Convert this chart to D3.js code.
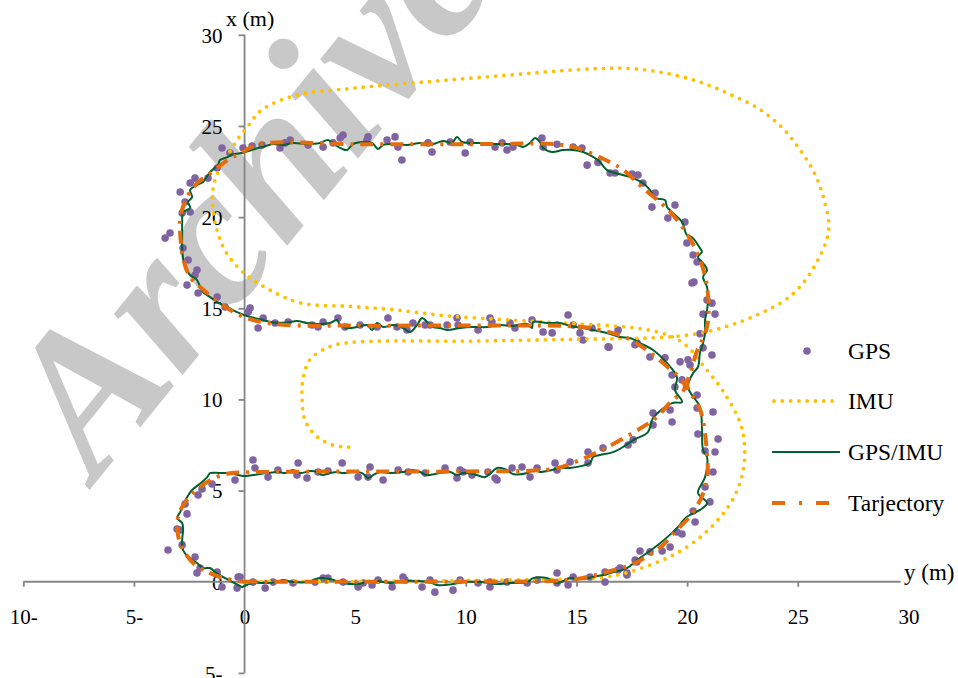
<!DOCTYPE html>
<html>
<head>
<meta charset="utf-8">
<script src="https://cdn.jsdelivr.net/npm/d3@7"></script>
<style>
  body { margin: 0; background: #fff; }
  svg text { font-family: "Liberation Serif", "Times New Roman", serif; }
</style>
</head>
<body>
<div id="chart"></div>
<script>
// horizontal value = y (m), vertical value = x (m)
const xTicks = [-10, -5, 0, 5, 10, 15, 20, 25, 30];
const xTickLabels = ["10-", "5-", "0", "5", "10", "15", "20", "25", "30"];
const yTicks = [-5, 0, 5, 10, 15, 20, 25, 30];
const yTickLabels = ["5-", "0", "5", "10", "15", "20", "25", "30"];
const seriesNames = ["GPS", "IMU", "GPS/IMU", "Tarjectory"];

// GPS fixes [y, x]
const gpsPoints = [
  [-0.07,23.79],[0.34,23.9],[0.79,23.95],[1.6,23.79],[1.83,24.07],[2.06,24.23],[2.87,23.95],[3.55,23.84],
  [4.0,24.07],[4.32,24.34],[4.45,24.5],[5.58,24.4],[5.53,24.23],[6.44,24.23],[6.8,24.4],[6.93,23.84],
  [7.11,23.13],[8.29,24.07],[8.47,23.57],[9.29,24.12],[9.97,23.52],[10.19,24.12],[11.32,23.84],[11.64,24.07],
  [11.86,23.68],[12.13,23.84],[13.44,24.34],[13.49,23.84],[14.12,24.0],[14.85,23.84],[15.25,23.79],[15.48,22.85],
  [15.97,23.0],[16.52,22.42],[16.74,22.42],[17.51,22.36],[17.78,22.31],[18.0,21.87],[18.55,21.32],[18.41,20.55],
  [19.45,20.66],[19.13,19.95],[19.9,19.73],[19.99,18.58],[20.27,17.92],[20.45,17.54],[20.22,16.39],[20.31,16.44],
  [20.9,15.45],[21.12,15.28],[20.72,14.68],[21.26,14.68],[16.88,13.8],[16.47,12.86],[17.74,13.1],[18.32,12.33],
  [19.0,12.28],[19.68,12.06],[20.58,13.6],[20.72,12.83],[21.12,12.44],[20.13,11.89],[19.32,11.34],[20.04,12.17],
  [19.77,11.07],[19.45,10.68],[20.45,10.24],[20.45,9.53],[21.17,9.31],[18.46,9.25],[19.32,8.76],[18.46,8.6],
  [19.23,9.42],[20.49,8.1],[21.4,7.83],[20.81,7.17],[21.26,7.12],[21.17,6.02],[20.81,5.2],[21.03,4.38],
  [20.27,3.88],[20.36,3.28],[19.54,2.73],[19.77,2.62],[19.23,1.9],[17.87,1.69],[18.32,1.64],[18.87,1.69],
  [17.65,1.19],[16.29,0.53],[17.28,0.48],[16.29,-0.02],[16.97,0.75],[16.2,7.33],[17.33,7.5],[17.56,7.78],
  [0.16,14.79],[0.25,15.01],[0.61,13.92],[0.84,14.47],[1.38,14.19],[1.97,14.25],[3.05,14.08],[3.32,13.97],
  [3.55,14.25],[4.22,14.47],[4.54,13.97],[5.22,14.08],[5.99,13.97],[6.48,14.47],[6.89,13.97],[7.34,13.81],
  [7.61,14.19],[8.16,14.08],[8.38,14.08],[9.15,14.08],[9.6,14.47],[9.65,14.08],[10.55,13.81],[11.09,14.47],
  [11.18,14.25],[12.0,14.19],[12.22,13.92],[12.99,14.36],[13.49,13.7],[13.9,13.65],[14.62,14.63],[14.85,14.08],
  [15.16,13.65],[15.3,13.26],[15.7,13.92],[16.43,12.88],[17.64,13.0],
  [-1.02,23.79],[-0.66,23.51],[-1.24,22.69],[-1.65,22.14],[-2.24,22.14],[-2.46,21.87],[-2.91,21.38],[-2.69,20.83],
  [-2.46,20.28],[-2.82,20.22],[-3.37,19.13],[-3.59,18.85],[-2.78,18.31],[-2.55,17.65],[-2.15,17.1],[-2.24,16.82],
  [-2.6,16.27],[-2.1,15.84],[-1.24,15.62],[-0.88,15.07],
  [0.38,6.68],[0.47,6.24],[1.06,5.74],[1.51,6.13],[2.37,5.85],[2.42,6.51],[2.82,5.69],[3.32,6.02],
  [3.77,6.07],[4.41,6.51],[5.13,5.74],[5.58,5.74],[5.67,6.29],[6.26,5.58],[6.94,6.13],[7.39,6.02],
  [8.16,5.96],[9.06,6.24],[9.6,5.69],[9.74,6.13],[9.88,6.02],[10.28,5.85],[11.0,6.02],[11.32,5.69],
  [11.41,5.58],[12.09,6.24],[12.54,6.29],[12.9,5.74],[13.22,6.24],[14.03,6.51],[14.12,6.13],[14.71,6.57],
  [15.52,7.11],[15.52,6.51],
  [-0.43,5.58],[-1.47,5.36],[-1.92,5.09],[-2.1,4.76],[-2.69,4.26],[-2.6,3.72],[-3.05,2.89],[-2.91,2.84],
  [-3.46,1.74],[-2.82,2.02],[-2.24,1.36],[-2.01,0.75],[-2.15,0.48],[-1.24,0.53],[-1.02,-0.29],[-0.29,0.26],
  [-0.34,-0.35],[0.93,-0.35],
  [-0.2,0.26],[0.38,-0.02],[1.29,-0.02],[2.19,-0.07],[3.19,-0.02],[3.55,0.2],[3.77,0.2],[4.45,-0.02],
  [5.13,-0.29],[5.36,-0.07],[5.76,-0.18],[6.03,0.09],[6.67,-0.29],[7.16,0.26],[7.25,0.09],[8.02,-0.29],
  [8.38,0.09],[8.6,-0.57],[9.42,-0.46],[9.74,0.09],[10.55,-0.07],[11.09,-0.29],[11.09,-0.02],[11.86,-0.02],
  [12.77,-0.07],[13.22,0.09],[14.12,0.48],[14.12,-0.07],[14.62,-0.18],[14.85,0.26],[15.61,0.26],[16.88,0.64],
  [17.28,0.37],[17.73,1.08]
];

// IMU only (drifting) [y, x]
const imuPath = [
  [0,0],[3,0],[6,0.02],[9,0.05],[12,0.1],[14.5,0.15],[16.2,0.25],[17.3,0.5],[18.5,1.0],[19.5,1.55],
  [20.6,2.45],[21.5,3.55],[22.1,4.6],[22.5,5.9],[22.6,7.4],[22.4,8.7],[21.6,10.5],[20.7,11.9],[20.1,12.8],
  [19.4,13.4],[18.3,13.8],[17,14.0],[15,14.15],[12,14.36],[9,14.6],[6.5,14.95],[4.8,15.1],[2.5,15.3],
  [1.15,16.0],[0.1,16.8],[-0.8,18.0],[-1.25,19.3],[-1.45,20.8],[-1.35,22.0],[-0.8,23.3],[-0.35,24.2],
  [0.1,24.9],[0.7,25.8],[1.6,26.4],[2.8,26.8],[4.3,27.0],[6,27.2],[8,27.4],[10,27.6],[12,27.8],[14,28.0],
  [16,28.15],[17.5,28.15],[19,27.9],[20.6,27.4],[22,26.7],[23.3,25.9],[24.3,24.9],[25.1,23.7],[25.8,22.3],
  [26.2,20.9],[26.4,19.3],[25.8,17.4],[24.7,15.7],[22.9,14.5],[21.5,13.9],[20.4,13.6],[18.8,13.4],
  [15,13.3],[10,13.2],[6,13.2],[4.6,13.1],[3.86,12.9],[2.96,12.2],[2.64,11.1],[2.6,9.97],[2.73,8.87],
  [3.19,8.05],[3.86,7.55],[4.54,7.39],[5.0,7.39]
];

// GPS/IMU fusion [y, x]
const fusedPath = [
  [-0.11,-0.29],[0.38,-0.07],[1.02,-0.07],[1.47,-0.02],[1.74,0.09],[2.19,-0.02],[2.82,-0.02],[3.41,0.2],
  [3.86,0.15],[4.45,-0.07],[5.08,-0.13],[5.54,-0.02],[5.99,0.04],[6.58,-0.07],[7.16,0.04],[7.79,0.04],
  [8.38,-0.02],[8.7,-0.18],[9.42,-0.13],[9.88,-0.02],[10.64,-0.02],[11.41,-0.13],[11.99,-0.07],[12.77,-0.02],
  [13.04,0.2],[13.67,0.2],[14.12,-0.07],[14.71,0.2],[15.3,0.15],[15.75,0.26],[16.2,0.37],
  [16.52,0.48],[17.28,0.75],[17.74,1.19],[18.68,2.02],[19.32,2.68],[19.59,3.01],[19.99,3.56],[20.58,3.94],
  [20.9,4.32],[20.49,4.87],[20.81,5.74],[20.9,6.85],[20.72,7.23],[20.67,8.49],[20.58,9.58],[20.04,10.68],
  [20.27,11.45],[20.49,11.78],[20.58,12.55],[20.72,13.1],[20.81,13.64],[20.81,14.35],[20.9,14.9],[20.94,15.45],
  [20.9,16.16],[20.72,16.71],[20.9,17.1],[20.72,17.48],[20.49,17.81],[20.67,18.09],[20.58,18.3],[20.22,18.9],
  [19.99,19.01],[19.77,19.73],[19.36,20.22],[19.09,20.55],[19.0,20.94],[18.55,21.05],[18.32,21.49],[18.0,21.87],
  [17.56,22.14],[17.1,22.31],[16.38,22.58],[16.06,23.02],
  [15.75,23.3],[15.3,23.57],[14.85,23.68],[14.39,23.68],[13.9,23.57],[13.49,23.79],[13.35,24.12],[13.13,24.34],
  [12.9,24.07],[12.58,23.85],[12.31,23.96],[11.86,24.01],[11.23,24.01],[10.64,24.07],[10.19,24.07],[9.83,24.12],
  [9.6,24.4],[9.38,24.07],[8.97,24.18],[8.52,24.01],[7.93,24.07],[7.34,23.96],[6.71,24.01],[6.26,23.96],
  [6.03,23.74],[5.76,24.07],[5.35,24.12],[4.9,24.01],[4.63,23.68],[4.41,23.74],[4.09,23.96],[3.77,24.23],
  [3.41,24.07],[2.82,24.01],[2.19,24.07],[1.74,23.96],[1.29,24.01],[0.84,23.85],[0.61,23.79],[0.25,23.65],
  [-0.2,23.5],[-0.52,23.45],[-0.75,23.3],[-1.11,23.13],[-1.2,22.86],[-1.56,22.47],[-1.88,21.93],[-2.15,21.76],
  [-2.46,21.49],[-2.37,21.1],[-2.55,20.83],[-2.46,20.5],[-2.78,20.28],[-2.82,19.84],[-2.82,19.13],[-2.82,18.36],
  [-2.78,17.76],[-2.69,17.26],[-2.46,16.82],[-2.15,16.55],[-2.01,16.17],[-1.88,15.89],[-1.56,15.62],[-1.24,15.34],
  [-0.79,15.07],[-0.34,14.79],[0.25,14.52],[0.7,14.4],[1.29,14.22],[1.92,14.22],[2.37,14.3],[2.82,14.19],
  [3.41,14.14],[3.86,14.19],[4.18,14.36],[4.32,14.08],[4.63,13.92],[5.08,13.97],[5.54,14.08],[5.76,13.81],
  [5.99,14.19],[6.26,13.97],[6.71,14.08],[7.16,13.92],[7.48,13.7],[7.79,14.08],[8.02,14.47],[8.25,14.25],
  [8.52,13.97],[8.83,13.92],[9.15,13.81],[9.74,13.92],[10.33,13.97],[10.96,13.97],[11.55,14.08],[12.13,14.03],
  [12.77,14.14],[12.99,13.92],[13.04,14.25],[13.67,14.19],[14.26,14.19],[14.71,14.03],[15.3,13.92],[15.75,13.81],
  [16.38,13.64],[16.97,13.42],[17.42,13.37],[17.87,13.09],[18.46,12.71],[19.09,11.99],[19.54,11.22],[19.45,10.52],
  [19.77,9.86],[19.32,9.8],[18.46,8.98],[18.23,8.21],[17.56,7.77],[17.1,7.39],[16.65,7.11],[16.06,6.95],
  [15.75,6.84],[15.61,6.51],[14.71,6.24],[14.26,6.24],[13.9,6.13],[13.35,6.02],[13.04,6.13],[12.77,5.96],
  [12.13,5.91],[11.86,6.13],[11.41,6.24],[11.09,5.91],[10.87,5.74],[10.33,5.91],[9.88,5.96],[9.6,5.85],
  [9.29,6.02],[8.83,5.96],[8.25,5.85],[7.93,6.02],[7.61,6.13],[7.16,6.02],[6.58,5.96],[6.12,6.02],
  [5.81,5.85],[5.58,5.69],[5.31,5.96],[4.9,6.02],[4.45,5.96],[4.18,6.02],[3.86,5.96],[3.5,5.85],
  [3.28,6.02],[2.96,6.07],[2.51,5.96],[2.19,6.13],[1.83,5.96],[1.51,6.02],[1.02,5.96],[0.38,5.85],
  [-0.07,5.8],[-0.66,5.96],[-1.11,5.96],[-1.56,5.96],[-1.69,5.74],[-1.92,5.47],[-2.37,5.03],[-2.6,4.64],
  [-2.78,4.2],[-2.91,3.82],[-3.05,3.49],[-2.82,3.22],[-2.78,2.84],[-2.82,2.29],[-2.78,1.74],[-2.55,1.36],
  [-2.15,1.03],[-1.88,0.75],[-1.56,0.75],[-1.33,0.53],[-0.88,0.2],[-0.11,-0.29]
];

// reference trajectory [y, x]
const trajPath = [
  [0,0],[5,0],[10,0],[14,0.05],[15,0.15],[16.1,0.45],[17.6,1.0],[18.8,1.9],[19.5,2.8],[20.1,3.55],
  [20.6,4.5],[20.9,5.6],[20.9,7.0],[20.6,9.4],[20.0,10.8],[20.2,11.6],[20.4,12.5],[20.9,14.0],[20.9,16.2],
  [20.4,18.2],[19.3,20.2],[18.0,21.6],[17.1,22.6],[16.2,23.2],[15,23.8],[14,24.0],[10,24.0],[5,24.0],
  [0.7,24.0],[-0.2,23.5],[-0.8,23.1],[-1.55,22.4],[-2.15,21.85],[-2.6,21.1],[-2.9,20.0],[-2.9,18.9],
  [-2.75,17.6],[-2.45,16.7],[-1.85,16.0],[-1.25,15.4],[-0.65,14.9],[0.25,14.4],[1.7,14.1],[5,14.05],
  [10,14.05],[15,14.0],[16.1,13.8],[17.4,13.3],[19.1,11.8],[19.9,10.7],[19.2,9.8],[18.6,9.0],[17.6,8.2],
  [16.1,7.2],[15,6.6],[14,6.2],[10,6.05],[5,6.05],[0,6.0],[-0.65,5.95],[-1.25,5.75],[-2.0,5.2],
  [-2.6,4.5],[-3.0,3.6],[-3.0,2.5],[-2.75,1.7],[-2.3,1.0],[-1.7,0.55],[-0.95,0.2],[0,0]
];

const width = 958, height = 678;
const axisColor = "#868686";

const svg = d3.select("#chart").append("svg")
  .attr("width", width)
  .attr("height", height)
  .style("display", "block");

svg.append("rect").attr("width", width).attr("height", height).attr("fill", "#fff");

const x = d3.scaleLinear().domain([-10, 30]).range([23.3, 908.4]);
const y = d3.scaleLinear().domain([-5, 30]).range([672.9, 34.8]);

// watermark
svg.append("text")
  .attr("transform", "translate(96,482) rotate(-51)")
  .attr("font-size", 200)
  .attr("font-weight", "bold")
  .attr("font-style", "italic")
  .attr("fill", "#c8c8c8")
  .text("Archive");

// axes
const xAxis = svg.append("g")
  .attr("transform", "translate(0," + y(0) + ")")
  .call(d3.axisBottom(x).tickValues(xTicks).tickSize(5).tickFormat((d, i) => xTickLabels[i]));
xAxis.select(".domain").remove();
xAxis.selectAll(".tick line").attr("stroke", axisColor).attr("stroke-width", 1.8)
  .attr("display", d => d === 30 ? "none" : null);
xAxis.selectAll(".tick text").attr("y", 42).attr("dy", null)
  .attr("font-size", 21).attr("fill", "#000")
  .style("font-family", "'Liberation Serif', serif");

const yAxis = svg.append("g")
  .attr("transform", "translate(" + x(0) + ",0)")
  .call(d3.axisLeft(y).tickValues(yTicks).tickSize(6).tickFormat((d, i) => yTickLabels[i]));
yAxis.select(".domain").remove();
yAxis.selectAll(".tick line").attr("stroke", axisColor).attr("stroke-width", 1.8);
yAxis.selectAll(".tick text").attr("x", -22).attr("dy", "0.35em")
  .attr("font-size", 21).attr("fill", "#000")
  .style("font-family", "'Liberation Serif', serif");

svg.append("line")
  .attr("x1", x(-10)).attr("x2", x(29.65))
  .attr("y1", y(0)).attr("y2", y(0))
  .attr("stroke", axisColor).attr("stroke-width", 1.8);
svg.append("line")
  .attr("x1", x(0)).attr("x2", x(0))
  .attr("y1", y(30)).attr("y2", y(-5))
  .attr("stroke", axisColor).attr("stroke-width", 1.8);

svg.append("text").attr("x", 904).attr("y", 580).attr("font-size", 23).text("y (m)");
svg.append("text").attr("x", 226).attr("y", 26).attr("font-size", 22).text("x (m)");

// series
const line = d3.line()
  .x(d => x(d[0]))
  .y(d => y(d[1]))
  .curve(d3.curveCatmullRom.alpha(0.5));

svg.append("g").selectAll("circle")
  .data(gpsPoints)
  .enter().append("circle")
  .attr("cx", d => x(d[0]))
  .attr("cy", d => y(d[1]))
  .attr("r", 3.8)
  .attr("fill", "#8064a2");

svg.append("path")
  .attr("d", line(imuPath))
  .attr("fill", "none")
  .attr("stroke", "#ffc000")
  .attr("stroke-width", 3.8)
  .attr("stroke-linecap", "round")
  .attr("stroke-dasharray", "0,8.3");

svg.append("path")
  .attr("d", line(fusedPath))
  .attr("fill", "none")
  .attr("stroke", "#00612e")
  .attr("stroke-width", 2);

svg.append("path")
  .attr("d", line(trajPath))
  .attr("fill", "none")
  .attr("stroke", "#e46c0a")
  .attr("stroke-width", 4)
  .attr("stroke-dasharray", "13,7,3,7");

// legend
const legend = svg.append("g");
const legendY = [351, 401, 452, 503];
legend.append("circle").attr("cx", 807).attr("cy", legendY[0]).attr("r", 3.8).attr("fill", "#8064a2");
legend.append("line").attr("x1", 774).attr("x2", 838).attr("y1", legendY[1]).attr("y2", legendY[1])
  .attr("stroke", "#ffc000").attr("stroke-width", 3.8).attr("stroke-linecap", "round").attr("stroke-dasharray", "0,8.3");
legend.append("line").attr("x1", 772).attr("x2", 840).attr("y1", legendY[2]).attr("y2", legendY[2])
  .attr("stroke", "#00612e").attr("stroke-width", 2);
legend.append("line").attr("x1", 772).attr("x2", 830).attr("y1", legendY[3]).attr("y2", legendY[3])
  .attr("stroke", "#e46c0a").attr("stroke-width", 4).attr("stroke-dasharray", "13,14,3,14");
legend.selectAll("text")
  .data(seriesNames)
  .enter().append("text")
  .attr("x", 848)
  .attr("y", (d, i) => legendY[i] + 8)
  .attr("font-size", 23.5)
  .text(d => d);
</script>
</body>
</html>
